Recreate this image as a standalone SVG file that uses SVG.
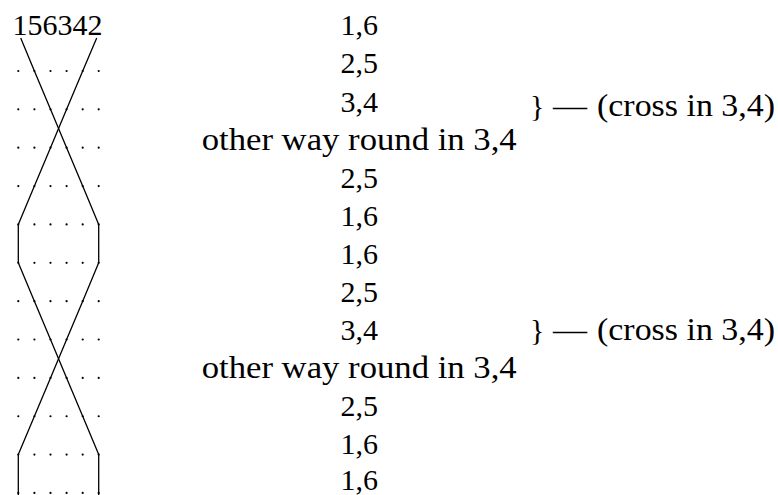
<svg xmlns="http://www.w3.org/2000/svg" width="778" height="495" viewBox="0 0 778 495">
<style>
.t{font-family:"Liberation Serif","Times New Roman",serif;font-size:30px;fill:#000}
.w{font-size:31px}
.m{text-anchor:middle}
.d{fill:#000}
.ln{fill:none;stroke:#000;stroke-width:1.3;stroke-linejoin:round}
</style>
<defs><circle id="dot" r="1.1" class="d"/></defs>
<rect width="778" height="495" fill="#fff"/>
<g id="perm-label"><text class="t m" x="57.5" y="35.3">156342</text></g>
<g id="dots">
<g id="row1"><use href="#dot" x="18.3" y="71"/><use href="#dot" x="34.4" y="71"/><use href="#dot" x="50.5" y="71"/><use href="#dot" x="66.6" y="71"/><use href="#dot" x="82.7" y="71"/><use href="#dot" x="98.7" y="71"/></g>
<g id="row2"><use href="#dot" x="18.3" y="109.36"/><use href="#dot" x="34.4" y="109.36"/><use href="#dot" x="50.5" y="109.36"/><use href="#dot" x="66.6" y="109.36"/><use href="#dot" x="82.7" y="109.36"/><use href="#dot" x="98.7" y="109.36"/></g>
<g id="row3"><use href="#dot" x="18.3" y="147.72"/><use href="#dot" x="34.4" y="147.72"/><use href="#dot" x="50.5" y="147.72"/><use href="#dot" x="66.6" y="147.72"/><use href="#dot" x="82.7" y="147.72"/><use href="#dot" x="98.7" y="147.72"/></g>
<g id="row4"><use href="#dot" x="18.3" y="186.08"/><use href="#dot" x="34.4" y="186.08"/><use href="#dot" x="50.5" y="186.08"/><use href="#dot" x="66.6" y="186.08"/><use href="#dot" x="82.7" y="186.08"/><use href="#dot" x="98.7" y="186.08"/></g>
<g id="row5"><use href="#dot" x="18.3" y="224.44"/><use href="#dot" x="34.4" y="224.44"/><use href="#dot" x="50.5" y="224.44"/><use href="#dot" x="66.6" y="224.44"/><use href="#dot" x="82.7" y="224.44"/><use href="#dot" x="98.7" y="224.44"/></g>
<g id="row6"><use href="#dot" x="18.3" y="262.8"/><use href="#dot" x="34.4" y="262.8"/><use href="#dot" x="50.5" y="262.8"/><use href="#dot" x="66.6" y="262.8"/><use href="#dot" x="82.7" y="262.8"/><use href="#dot" x="98.7" y="262.8"/></g>
<g id="row7"><use href="#dot" x="18.3" y="301.16"/><use href="#dot" x="34.4" y="301.16"/><use href="#dot" x="50.5" y="301.16"/><use href="#dot" x="66.6" y="301.16"/><use href="#dot" x="82.7" y="301.16"/><use href="#dot" x="98.7" y="301.16"/></g>
<g id="row8"><use href="#dot" x="18.3" y="339.52"/><use href="#dot" x="34.4" y="339.52"/><use href="#dot" x="50.5" y="339.52"/><use href="#dot" x="66.6" y="339.52"/><use href="#dot" x="82.7" y="339.52"/><use href="#dot" x="98.7" y="339.52"/></g>
<g id="row9"><use href="#dot" x="18.3" y="377.88"/><use href="#dot" x="34.4" y="377.88"/><use href="#dot" x="50.5" y="377.88"/><use href="#dot" x="66.6" y="377.88"/><use href="#dot" x="82.7" y="377.88"/><use href="#dot" x="98.7" y="377.88"/></g>
<g id="row10"><use href="#dot" x="18.3" y="416.24"/><use href="#dot" x="34.4" y="416.24"/><use href="#dot" x="50.5" y="416.24"/><use href="#dot" x="66.6" y="416.24"/><use href="#dot" x="82.7" y="416.24"/><use href="#dot" x="98.7" y="416.24"/></g>
<g id="row11"><use href="#dot" x="18.3" y="454.6"/><use href="#dot" x="34.4" y="454.6"/><use href="#dot" x="50.5" y="454.6"/><use href="#dot" x="66.6" y="454.6"/><use href="#dot" x="82.7" y="454.6"/><use href="#dot" x="98.7" y="454.6"/></g>
<g id="row12"><use href="#dot" x="18.3" y="492.96"/><use href="#dot" x="34.4" y="492.96"/><use href="#dot" x="50.5" y="492.96"/><use href="#dot" x="66.6" y="492.96"/><use href="#dot" x="82.7" y="492.96"/><use href="#dot" x="98.7" y="492.96"/></g>
</g>
<g id="connectors">
<polyline class="ln" points="96.7,38 82.7,71 66.6,109.36 50.5,147.72 34.4,186.08 18.3,224.44 18.3,262.8 34.4,301.16 50.5,339.52 66.6,377.88 82.7,416.24 98.7,454.6 98.7,496"/>
<polyline class="ln" points="20.7,38 34.4,71 50.5,109.36 66.6,147.72 82.7,186.08 98.7,224.44 98.7,262.8 82.7,301.16 66.6,339.52 50.5,377.88 34.4,416.24 18.3,454.6 18.3,496"/>
</g>
<g id="steps">
<text class="t m" x="359.2" y="35.3">1,6</text>
<text class="t m" x="359.2" y="73.4">2,5</text>
<text class="t m" x="359.2" y="111.5">3,4</text>
<text class="t w m" x="359.2" y="149.6" textLength="315" lengthAdjust="spacingAndGlyphs">other way round in 3,4</text>
<text class="t m" x="359.2" y="187.7">2,5</text>
<text class="t m" x="359.2" y="225.8">1,6</text>
<text class="t m" x="359.2" y="263.9">1,6</text>
<text class="t m" x="359.2" y="302">2,5</text>
<text class="t m" x="359.2" y="340.1">3,4</text>
<text class="t w m" x="359.2" y="378.2" textLength="315" lengthAdjust="spacingAndGlyphs">other way round in 3,4</text>
<text class="t m" x="359.2" y="416.3">2,5</text>
<text class="t m" x="359.2" y="454.4">1,6</text>
<text class="t m" x="359.2" y="489.5">1,6</text>
</g>
<g id="note1">
<text class="t" x="530" y="116">}</text>
<text class="t" x="553" y="116" textLength="34" lengthAdjust="spacingAndGlyphs">—</text>
<text class="t w" x="597" y="116" textLength="178" lengthAdjust="spacingAndGlyphs">(cross in 3,4)</text>
</g>
<g id="note2">
<text class="t" x="530" y="340">}</text>
<text class="t" x="553" y="340" textLength="34" lengthAdjust="spacingAndGlyphs">—</text>
<text class="t w" x="597" y="340" textLength="178" lengthAdjust="spacingAndGlyphs">(cross in 3,4)</text>
</g>
</svg>
